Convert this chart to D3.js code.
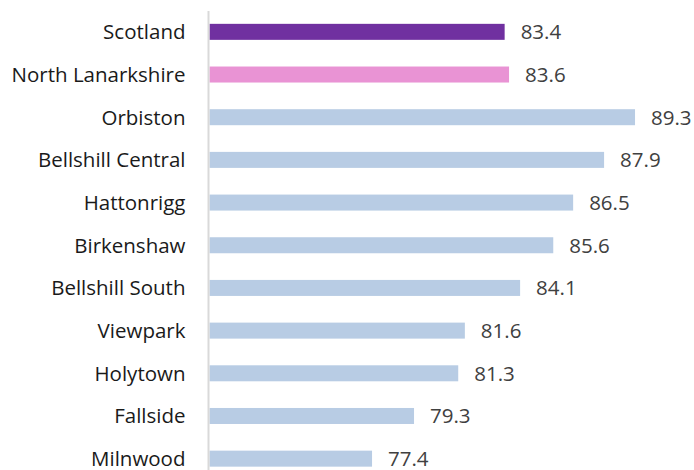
<html>
  <head>
    <script src="https://cdn.jsdelivr.net/npm/d3@7"></script>
    <style>
      body { margin: 0; background: #fff; }
      text { font-family: "Open Sans", sans-serif; }
    </style>
  </head>
  <body>
    <div id="container"></div>
    <script>
      // data
      const areas = ["Scotland", "North Lanarkshire", "Orbiston", "Bellshill Central", "Hattonrigg",
        "Birkenshaw", "Bellshill South", "Viewpark", "Holytown", "Fallside", "Milnwood"];
      const values = [83.4, 83.6, 89.3, 87.9, 86.5, 85.6, 84.1, 81.6, 81.3, 79.3, 77.4];
      const barColours = ["#7030a0", "#e993d4", "#b8cce4", "#b8cce4", "#b8cce4", "#b8cce4",
        "#b8cce4", "#b8cce4", "#b8cce4", "#b8cce4", "#b8cce4"];

      function drawSVG() {
        const svgW = 694, svgH = 470;
        const svg = d3.select("#container").append("svg")
          .attr("width", svgW)
          .attr("height", svgH);

        const x = d3.scaleLinear().domain([70, 90]).range([208.5, 650.5]);
        const y = d3.scaleBand().domain(areas).range([10.5, 480]).paddingInner(0.625).paddingOuter(0.3125);

        const rows = areas.map((a, i) => ({ area: a, value: values[i], colour: barColours[i] }));

        svg.append("g").selectAll("rect")
          .data(rows)
          .join("rect")
          .attr("x", x(70) + 1)
          .attr("y", d => y(d.area))
          .attr("width", d => x(d.value) - x(70) - 1)
          .attr("height", y.bandwidth())
          .attr("fill", d => d.colour);

        // axis line
        svg.append("line")
          .attr("x1", x(70)).attr("x2", x(70))
          .attr("y1", 11).attr("y2", svgH)
          .attr("stroke", "#d9d9d9")
          .attr("stroke-width", 2);

        svg.append("g").selectAll("text")
          .data(rows)
          .join("text")
          .attr("x", x(70) - 23)
          .attr("y", d => y(d.area) + y.bandwidth() / 2)
          .attr("dy", "0.36em")
          .attr("text-anchor", "end")
          .attr("font-size", 20.5)
          .attr("fill", "#1a1a1a")
          .text(d => d.area);

        svg.append("g").selectAll("text")
          .data(rows)
          .join("text")
          .attr("x", d => x(d.value) + 16)
          .attr("y", d => y(d.area) + y.bandwidth() / 2)
          .attr("dy", "0.36em")
          .attr("font-size", 20.5)
          .attr("fill", "#404040")
          .text(d => d.value.toFixed(1));
      }
      drawSVG();
    </script>
  </body>
</html>
